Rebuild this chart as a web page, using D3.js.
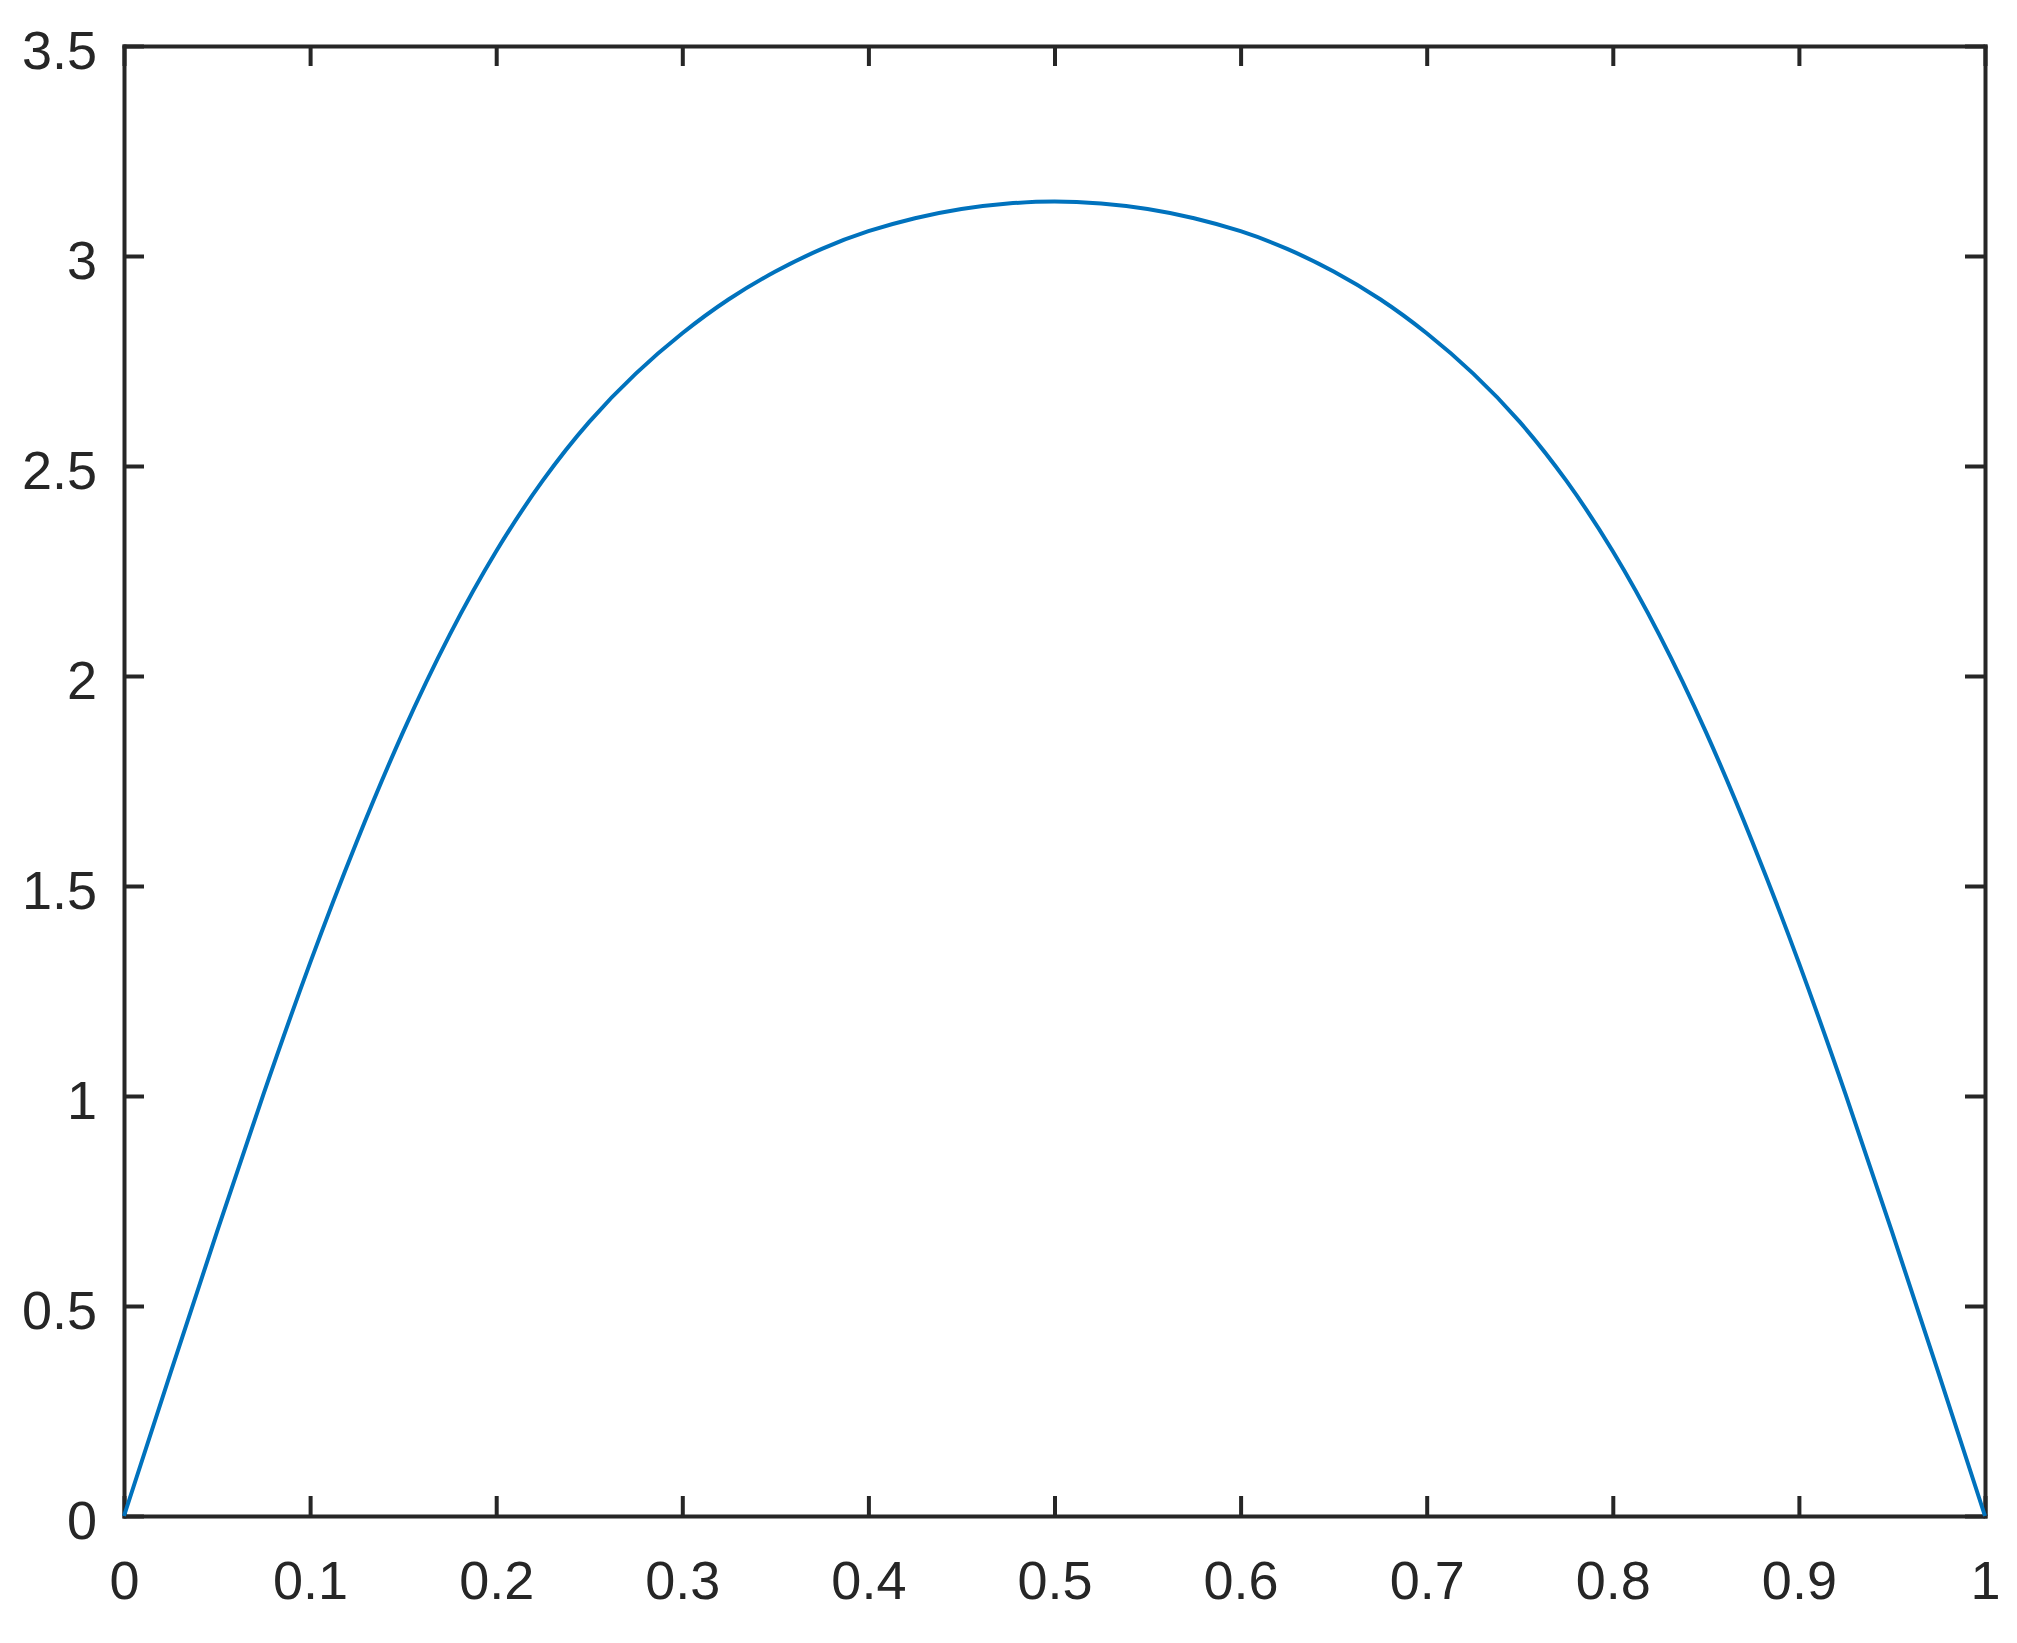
<!DOCTYPE html>
<html>
<head>
<meta charset="utf-8">
<script src="https://cdn.jsdelivr.net/npm/d3@7"></script>
<style>
  body { margin: 0; background: #fff; }
  svg { display: block; }
  .tick text { font-family: "Liberation Sans", Arial, Helvetica, sans-serif; font-size: 54px; fill: #262626; }
  .tick line { stroke: #262626; stroke-width: 4; }
  .domain { stroke: #262626; stroke-width: 4; stroke-linecap: square; }
</style>
</head>
<body>
<div id="chart"></div>
<script>
  "use strict"

  // values
  var xValues = [0, 0.025, 0.05, 0.075, 0.1, 0.125, 0.15, 0.175, 0.2, 0.225,
                 0.25, 0.275, 0.3, 0.325, 0.35, 0.375, 0.4, 0.425, 0.45, 0.475,
                 0.5, 0.525, 0.55, 0.575, 0.6, 0.625, 0.65, 0.675, 0.7, 0.725,
                 0.75, 0.775, 0.8, 0.825, 0.85, 0.875, 0.9, 0.925, 0.95, 0.975, 1];
  var yValues = [0, 0.341, 0.677, 1.005, 1.317, 1.605, 1.867, 2.098, 2.297, 2.465,
                 2.605, 2.72, 2.816, 2.897, 2.963, 3.017, 3.059, 3.09, 3.112, 3.125,
                 3.13, 3.125, 3.112, 3.09, 3.059, 3.017, 2.963, 2.897, 2.816, 2.72,
                 2.605, 2.465, 2.297, 2.098, 1.867, 1.605, 1.317, 1.005, 0.677, 0.341, 0];
  var xTicks = [0, 0.1, 0.2, 0.3, 0.4, 0.5, 0.6, 0.7, 0.8, 0.9, 1];
  var yTicks = [0, 0.5, 1, 1.5, 2, 2.5, 3, 3.5];

  var width = 2017, height = 1643;
  var box = {left: 124, right: 1985, top: 46, bottom: 1516};

  var svg = d3.select("#chart")
      .append("svg")
      .attr("width", width)
      .attr("height", height);

  var x = d3.scaleLinear().domain([0, 1]).range([box.left, box.right]);
  var y = d3.scaleLinear().domain([0, 3.5]).range([box.bottom, box.top]);

  function fmt(d) { return String(d); }

  // bottom axis with labels
  svg.append("g")
      .attr("transform", "translate(0," + box.bottom + ")")
      .call(d3.axisBottom(x).tickValues(xTicks).tickFormat(fmt)
            .tickSizeInner(-20).tickSizeOuter(0).tickPadding(45));

  // left axis with labels
  var left = svg.append("g")
      .attr("transform", "translate(" + box.left + ",0)")
      .call(d3.axisLeft(y).tickValues(yTicks).tickFormat(fmt)
            .tickSizeInner(-20).tickSizeOuter(0).tickPadding(27));
  left.selectAll(".tick text").attr("dy", "0.41em");

  // top and right: box with inward ticks, no labels
  svg.append("g")
      .attr("transform", "translate(0," + box.top + ")")
      .call(d3.axisTop(x).tickValues(xTicks).tickFormat("")
            .tickSizeInner(-20).tickSizeOuter(0));
  svg.append("g")
      .attr("transform", "translate(" + box.right + ",0)")
      .call(d3.axisRight(y).tickValues(yTicks).tickFormat("")
            .tickSizeInner(-20).tickSizeOuter(0));

  svg.selectAll(".domain").attr("fill", "none");

  var points = xValues.map(function(d, i) { return [d, yValues[i]]; });

  var line = d3.line()
      .x(function(d) { return x(d[0]); })
      .y(function(d) { return y(d[1]); })
      .curve(d3.curveNatural);

  svg.append("path")
      .datum(points)
      .attr("d", line)
      .attr("fill", "none")
      .attr("stroke", "#0072BD")
      .attr("stroke-width", 4);
</script>
</body>
</html>
